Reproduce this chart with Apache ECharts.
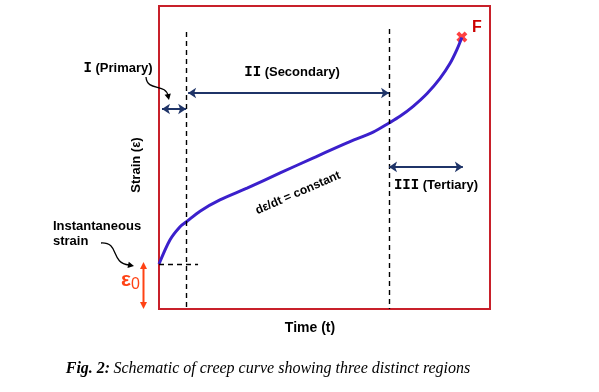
<!DOCTYPE html>
<html><head><meta charset="utf-8">
<script src="https://cdn.jsdelivr.net/npm/echarts@6/dist/echarts.min.js"></script>
<style>html,body{margin:0;padding:0;background:#fff}#c{width:599px;height:392px}</style>
</head><body><div id="c"></div>
<script>
// Creep curve (arbitrary units: time 0-100, strain 0-100)
const time   = [0, 3.3, 6.3, 8.2, 12.4, 18.4, 26.6, 36.6, 46.5, 56.8, 64.7, 69.5, 72.8, 76.7, 81.0, 84.9, 87.9, 90.0, 91.5];
const strain = [14.85, 22.8, 27.1, 28.7, 32.3, 36.0, 39.9, 44.9, 49.8, 54.8, 58.4, 61.4, 63.6, 66.8, 71.1, 76.1, 81.0, 85.6, 89.6];
const regionBounds = [8.2, 69.5];        // primary/secondary, secondary/tertiary
const failurePoint = [91.5, 89.8];
const eps0 = 14.85;
const arrowLevels = {primary: 66.0, secondary: 71.3, tertiary: 46.9};
const tertiaryEnd = 91.8;

const chart = echarts.init(document.getElementById('c'), null, {renderer: 'canvas'});
const navy = '#1f3468';
const orange = '#ff4214';
const dash = [5, 4];
const sans = '"Liberation Sans", Arial, sans-serif';

function head(x, y, ang, color, len, w) {
  len = len || 7; w = w || 3.5;
  const c = Math.cos(ang), s = Math.sin(ang);
  const bx = x - c * len, by = y - s * len;
  return {type: 'polygon', silent: true, shape: {points: [[x, y], [bx - s * w, by + c * w], [bx + s * w, by - c * w]]}, style: {fill: color}};
}
const arrowSym = {symbol: 'arrow', symbolSize: [8, 8]};
function arrow(a, b, color, width) {
  return [Object.assign({coord: a, lineStyle: {color: color, width: width, type: 'solid'}}, arrowSym), Object.assign({coord: b}, arrowSym)];
}
function dashed(a, b) {
  return [{coord: a, symbol: 'none', lineStyle: {color: '#000', width: 1.4, type: dash}}, {coord: b, symbol: 'none'}];
}

const option = {
  animation: false,
  grid: {left: 159, top: 6, width: 331, height: 303, show: true, borderColor: '#c8202a', borderWidth: 2, backgroundColor: 'transparent'},
  xAxis: {type: 'value', min: 0, max: 100, axisLine: {show: false}, axisTick: {show: false}, axisLabel: {show: false}, splitLine: {show: false}},
  yAxis: {type: 'value', min: 0, max: 100, axisLine: {show: false}, axisTick: {show: false}, axisLabel: {show: false}, splitLine: {show: false}},
  series: [
    {
      type: 'line', clip: false, smooth: 0.3, symbol: 'none',
      data: time.map((t, i) => [t, strain[i]]),
      lineStyle: {color: '#3b20cc', width: 3},
      markLine: {
        silent: true, animation: false, label: {show: false},
        data: [
          dashed([regionBounds[0], 91.4], [regionBounds[0], 0]),
          dashed([regionBounds[1], 92.4], [regionBounds[1], 0]),
          dashed([0, eps0], [11.8, eps0]),
          arrow([0.9, arrowLevels.primary], [regionBounds[0], arrowLevels.primary], navy, 2),
          arrow([8.8, arrowLevels.secondary], [regionBounds[1], arrowLevels.secondary], navy, 2),
          arrow([regionBounds[1], arrowLevels.tertiary], [tertiaryEnd, arrowLevels.tertiary], navy, 2)
        ]
      }
    },
    {
      type: 'scatter', data: [failurePoint], symbolSize: 11,
      symbol: 'path://M2.5,0 L5,2.5 L7.5,0 L10,2.5 L7.5,5 L10,7.5 L7.5,10 L5,7.5 L2.5,10 L0,7.5 L2.5,5 L0,2.5 Z',
      itemStyle: {color: '#ff1010'}
    }
  ],
  graphic: [
    {type: 'text', style: {text: 'Time (t)', x: 310, y: 328, textAlign: 'center', textVerticalAlign: 'middle', font: 'bold 14px ' + sans, fill: '#000'}},
    {type: 'text', x: 136, y: 165, rotation: Math.PI / 2, style: {text: 'Strain (ε)', x: 0, y: 0, textAlign: 'center', textVerticalAlign: 'middle', font: 'bold 13px ' + sans, fill: '#000'}},
    {type: 'text', x: 298, y: 193, rotation: 0.41, style: {text: 'dε/dt = constant', x: 0, y: 0, textAlign: 'center', textVerticalAlign: 'middle', font: 'bold 12px ' + sans, fill: '#000'}},
    {type: 'text', style: {x: 118, y: 68, textAlign: 'center', textVerticalAlign: 'middle', text: '{r|I} (Primary)', rich: {r: {font: 'bold 14px "Liberation Mono", "Courier New", monospace'}}, font: 'bold 13px ' + sans, fill: '#000'}},
    {type: 'text', style: {x: 292, y: 72, textAlign: 'center', textVerticalAlign: 'middle', text: '{r|II} (Secondary)', rich: {r: {font: 'bold 14px "Liberation Mono", "Courier New", monospace'}}, font: 'bold 13px ' + sans, fill: '#000'}},
    {type: 'text', style: {x: 436, y: 185, textAlign: 'center', textVerticalAlign: 'middle', text: '{r|III} (Tertiary)', rich: {r: {font: 'bold 14px "Liberation Mono", "Courier New", monospace'}}, font: 'bold 13px ' + sans, fill: '#000'}},
    {type: 'text', style: {x: 53, y: 226, textAlign: 'left', textVerticalAlign: 'middle', text: 'Instantaneous', font: 'bold 13px ' + sans, fill: '#000'}},
    {type: 'text', style: {x: 53, y: 241, textAlign: 'left', textVerticalAlign: 'middle', text: 'strain', font: 'bold 13px ' + sans, fill: '#000'}},
    {type: 'text', style: {x: 477, y: 28, textAlign: 'center', textVerticalAlign: 'middle', text: 'F', font: 'bold 16px ' + sans, fill: '#cc0000'}},
    {type: 'text', style: {x: 121, y: 280, textAlign: 'left', textVerticalAlign: 'middle', text: '{e|ε}{s|0}', rich: {e: {font: 'bold 21px "Liberation Sans", sans-serif', fill: orange}, s: {font: '16px "Liberation Sans", sans-serif', fill: orange, padding: [10, 0, 0, 0]}}}},
    {type: 'line', silent: true, shape: {x1: 143.5, y1: 268, x2: 143.5, y2: 303}, style: {stroke: orange, lineWidth: 2}},
    head(143.5, 262, -Math.PI / 2, orange, 7, 3.5),
    head(143.5, 309, Math.PI / 2, orange, 7, 3.5),
    {type: 'bezierCurve', silent: true, shape: {x1: 146, y1: 77, cpx1: 147, cpy1: 92, cpx2: 166, cpy2: 83, x2: 168, y2: 96}, style: {stroke: '#000', lineWidth: 1.3, fill: 'none'}},
    head(169, 100, 1.35, '#000', 6, 3.2),
    {type: 'bezierCurve', silent: true, shape: {x1: 101, y1: 243, cpx1: 120, cpy1: 242, cpx2: 110, cpy2: 263, x2: 129, y2: 265}, style: {stroke: '#000', lineWidth: 1.3, fill: 'none'}},
    head(134, 266, 0.2, '#000', 6, 3.2),
    {type: 'text', style: {x: 268, y: 369, textAlign: 'center', textVerticalAlign: 'middle', text: '{b|Fig. 2:} {i|Schematic of creep curve showing three distinct regions}', rich: {b: {font: 'italic bold 16px "Liberation Serif", "Times New Roman", serif', fill: '#000'}, i: {font: 'italic 16px "Liberation Serif", "Times New Roman", serif', fill: '#000'}}}}
  ]
};
chart.setOption(option);
</script></body></html>
